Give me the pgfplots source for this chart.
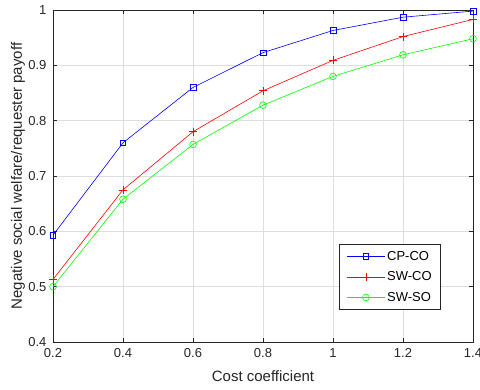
\documentclass[border=0pt]{standalone}
\usepackage{pgfplots}
\pgfplotsset{compat=1.18}
\usepackage{fontspec}
\setmainfont{Liberation Sans}
\definecolor{axgray}{RGB}{38,38,38}
\definecolor{gridgray}{RGB}{222,222,222}
\begin{document}
\begin{tikzpicture}
\useasboundingbox (-53bp,-48bp) rectangle (427bp,342bp);
\begin{axis}[
  at={(0,0)}, anchor=south west,
  scale only axis,
  width=420bp, height=332bp,
  xmin=0.2, xmax=1.4, ymin=0.4, ymax=1,
  xtick={0.2,0.4,0.6,0.8,1,1.2,1.4},
  ytick={0.4,0.5,0.6,0.7,0.8,0.9,1},
  xticklabels={0.2,0.4,0.6,0.8,1,1.2,1.4},
  yticklabels={0.4,0.5,0.6,0.7,0.8,0.9,1},
  grid=major,
  major grid style={draw=gridgray, line width=0.5bp},
  axis line style={draw=axgray, line width=0.6bp},
  tick style={draw=axgray, line width=0.6bp},
  major tick length=4bp,
  tick align=inside,
  xtick pos=both, ytick pos=both,
  tick label style={font=\fontsize{13bp}{15bp}\selectfont, text=axgray},
  /pgf/number format/assume math mode=true,
  xticklabel style={yshift=-3bp},
  yticklabel style={xshift=-3bp},
  xlabel={Cost coefficient},
  ylabel={Negative social welfare/requester payoff},
  label style={font=\fontsize{15bp}{17bp}\selectfont, text=axgray},
  xlabel style={at={(axis description cs:0.5,-0.1024)}, anchor=center},
  ylabel style={at={(axis description cs:-0.0833,0.5)}, anchor=center},
  legend style={
    at={(axis description cs:0.9238,0.0964)}, anchor=south east,
    draw=axgray, line width=0.6bp, fill=white,
    font=\fontsize{13bp}{15bp}\selectfont,
    inner xsep=7bp, inner ysep=5bp,
    row sep=6bp,
    cells={anchor=west},
  },
  legend image code/.code={
    \draw[mark repeat=2,mark phase=2] plot coordinates {(0bp,0bp) (19bp,0bp) (38bp,0bp)};
  },
]
\addplot[color=blue, line width=0.6bp, mark=square, mark size=2.8bp, mark options={solid, line width=0.6bp}]
  coordinates {(0.2,0.593) (0.4,0.760) (0.6,0.860) (0.8,0.923) (1.0,0.963) (1.2,0.987) (1.4,0.998)};
\addlegendentry{CP-CO}
\addplot[color=red, line width=0.6bp, mark=+, mark size=4bp, mark options={solid, line width=0.6bp}]
  coordinates {(0.2,0.513) (0.4,0.675) (0.6,0.780) (0.8,0.854) (1.0,0.909) (1.2,0.952) (1.4,0.983)};
\addlegendentry{SW-CO}
\addplot[color=green, line width=0.6bp, mark=o, mark size=3.4bp, mark options={solid, line width=0.6bp}]
  coordinates {(0.2,0.500) (0.4,0.658) (0.6,0.757) (0.8,0.828) (1.0,0.880) (1.2,0.919) (1.4,0.948)};
\addlegendentry{SW-SO}
\end{axis}
\end{tikzpicture}
\end{document}
